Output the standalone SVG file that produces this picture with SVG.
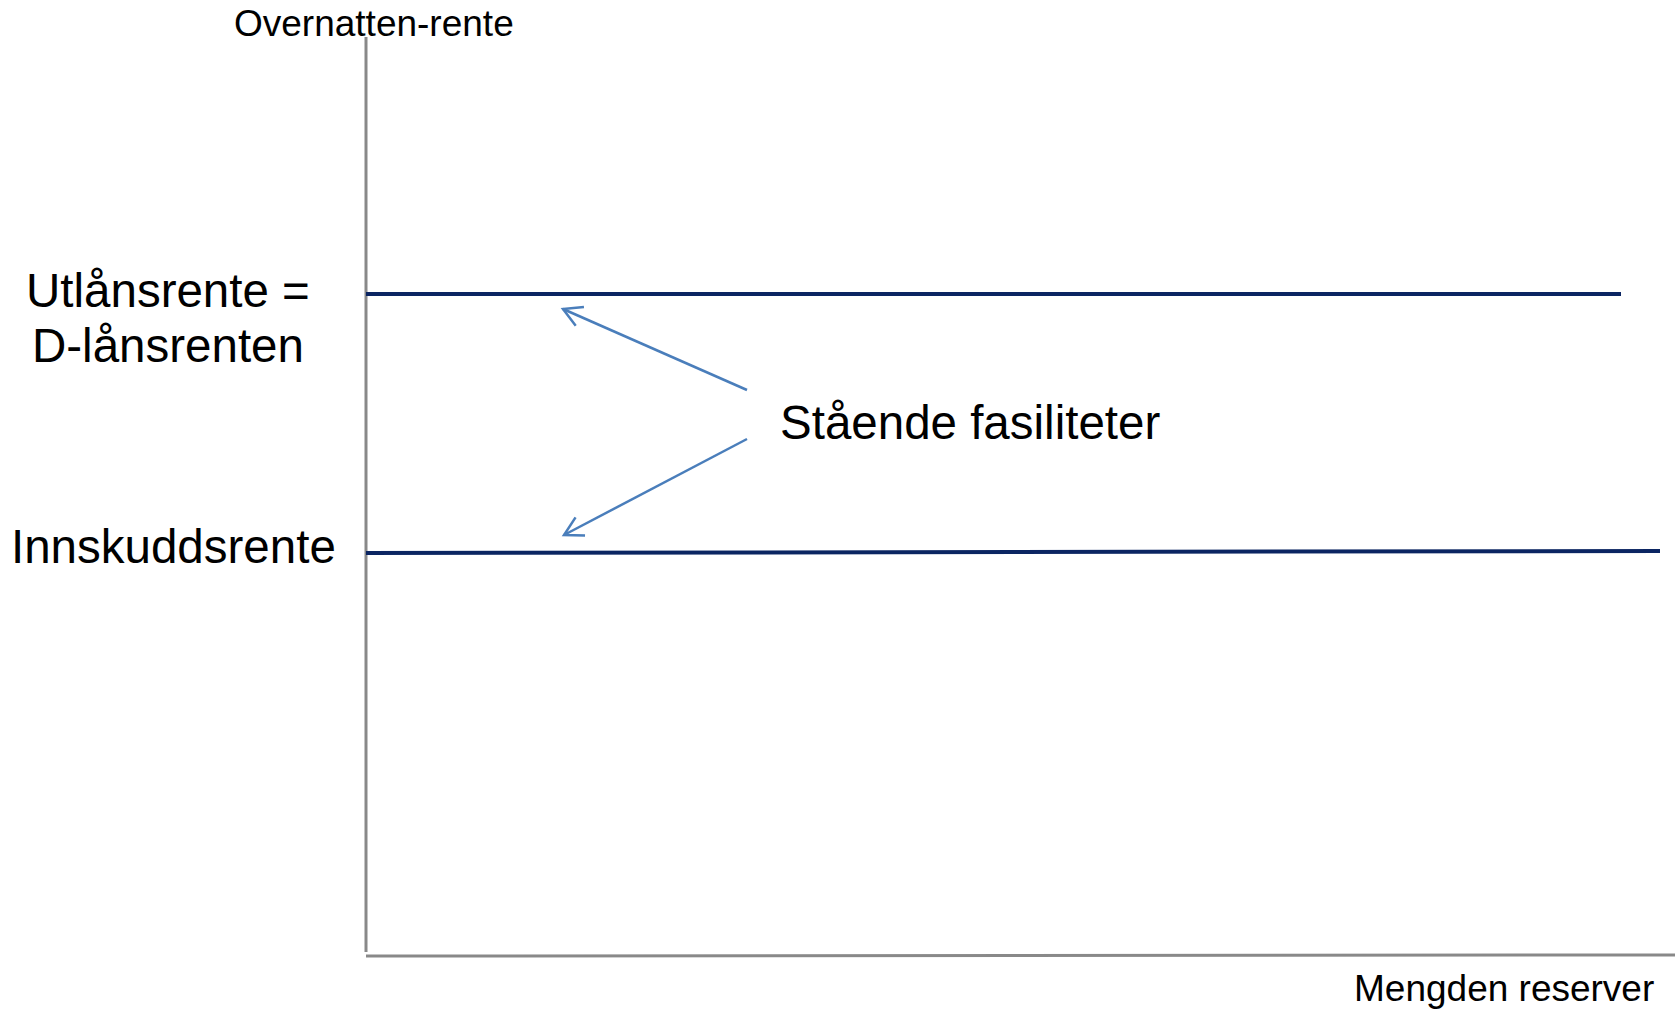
<svg xmlns="http://www.w3.org/2000/svg" width="1675" height="1009" viewBox="0 0 1675 1009">
  <style>
    .lbl { font-family: "Liberation Sans", Arial, sans-serif; fill: #000000; }
    .big { font-size: 47.5px; }
    .small { font-size: 37px; }
    .axis { stroke: #898989; stroke-width: 3; fill: none; }
    .rate { stroke: #0B2562; stroke-width: 4; fill: none; }
    .conn { stroke: #4A7EBB; stroke-width: 2.5; fill: none; }
  </style>
  <defs>
    <marker id="openArrow" markerUnits="userSpaceOnUse" orient="auto" overflow="visible" refX="0" refY="0" markerWidth="24" markerHeight="24">
      <path d="M -18.4 -10.2 L 0 0 L -18.4 10.2" fill="none" stroke="#4A7EBB" stroke-width="2.5" stroke-linejoin="miter"/>
    </marker>
  </defs>
  <rect width="1675" height="1009" fill="#ffffff"/>

  <g id="axes">
    <line class="axis" x1="366" y1="37" x2="366" y2="952"/>
    <line class="axis" x1="366" y1="956" x2="1675" y2="955"/>
  </g>

  <g id="y-axis-label">
    <text class="lbl small" x="234" y="36">Overnatten-rente</text>
  </g>
  <g id="x-axis-label">
    <text class="lbl small" x="1354" y="1001">Mengden reserver</text>
  </g>

  <g id="utlansrente">
    <line class="rate" x1="366" y1="294" x2="1621" y2="294"/>
    <text class="lbl big" x="26" y="307">Utlånsrente =</text>
    <text class="lbl big" x="32" y="362">D-lånsrenten</text>
  </g>

  <g id="innskuddsrente">
    <line class="rate" x1="366" y1="553" x2="1660" y2="551"/>
    <text class="lbl big" x="11" y="563">Innskuddsrente</text>
  </g>

  <g id="staende-fasiliteter">
    <text class="lbl big" x="780" y="439">Stående fasiliteter</text>
  </g>

  <g id="connectors">
    <line class="conn" x1="747" y1="390" x2="563" y2="309" marker-end="url(#openArrow)"/>
    <line class="conn" x1="747" y1="439" x2="564" y2="535" marker-end="url(#openArrow)"/>
  </g>
</svg>
